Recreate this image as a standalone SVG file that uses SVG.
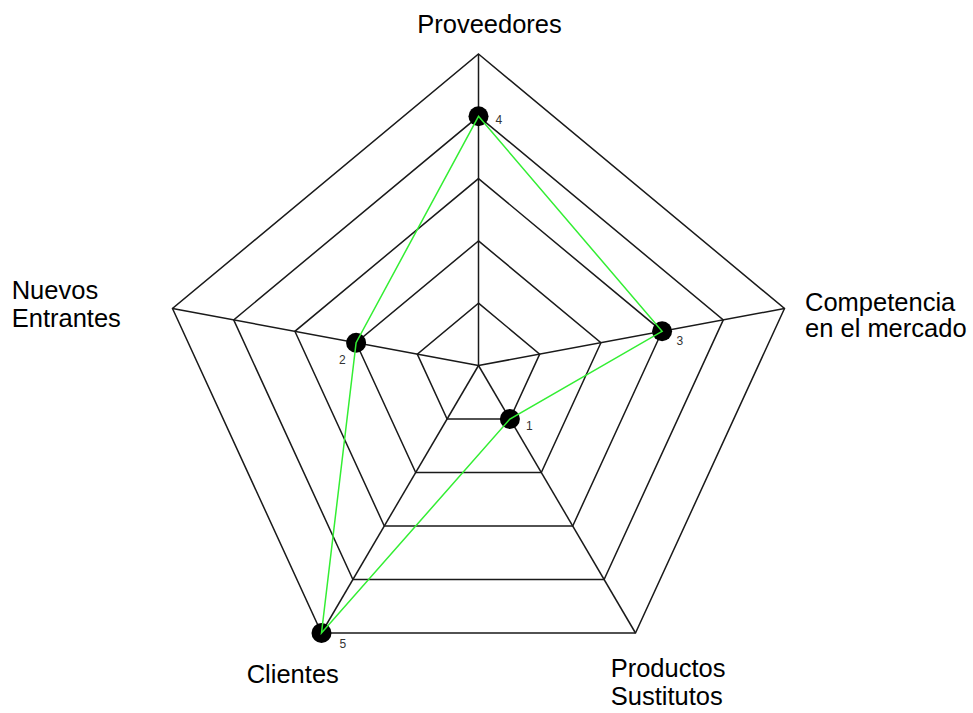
<svg xmlns="http://www.w3.org/2000/svg" width="973" height="713" viewBox="0 0 973 713">
  <style>
    .grid { fill: none; stroke: #1a1a1a; stroke-width: 1.5; stroke-linejoin: miter; }
    .axis { stroke: #1a1a1a; stroke-width: 1.5; }
    .series { fill: none; stroke: #33ee33; stroke-width: 1.5; }
    .dot { fill: #000; }
    .label { font-family: "Liberation Sans", Arial, sans-serif; font-size: 25.5px; fill: #000; }
    .val { font-family: "Liberation Sans", Arial, sans-serif; font-size: 12px; fill: #333; }
  </style>
  <rect width="973" height="713" fill="#fff"/>

  <!-- concentric level pentagons -->
  <g id="grid">
    <polygon class="grid" points="478.5,303.2 539.7,354.1 509.9,419 447.1,419 417.3,354.1"/>
    <polygon class="grid" points="478.5,240.9 600.9,342.7 541.3,472.5 415.7,472.5 356.1,342.7"/>
    <polygon class="grid" points="478.5,178.6 662.1,331.3 572.7,526 384.3,526 294.9,331.3"/>
    <polygon class="grid" points="478.5,116.3 723.3,319.9 604.1,579.5 352.9,579.5 233.7,319.9"/>
    <polygon class="grid" points="478.5,54 784.5,308.5 635.5,633 321.5,633 172.5,308.5"/>
  </g>

  <!-- spokes from the centre -->
  <g id="connectors">
    <line class="axis" x1="478.5" y1="365.5" x2="478.5" y2="54"/>
    <line class="axis" x1="478.5" y1="365.5" x2="784.5" y2="308.5"/>
    <line class="axis" x1="478.5" y1="365.5" x2="635.5" y2="633"/>
    <line class="axis" x1="478.5" y1="365.5" x2="321.5" y2="633"/>
    <line class="axis" x1="478.5" y1="365.5" x2="172.5" y2="308.5"/>
  </g>

  <!-- data points -->
  <g id="point-proveedores"><circle class="dot" cx="478.5" cy="116.3" r="10"/><text class="val" x="495.5" y="123.5">4</text></g>
  <g id="point-competencia"><circle class="dot" cx="662.1" cy="331.3" r="10"/><text class="val" x="676.5" y="344.5">3</text></g>
  <g id="point-sustitutos"><circle class="dot" cx="509.9" cy="419" r="10"/><text class="val" x="526" y="430">1</text></g>
  <g id="point-clientes"><circle class="dot" cx="321.5" cy="633" r="10"/><text class="val" x="339.5" y="648">5</text></g>
  <g id="point-entrantes"><circle class="dot" cx="356.1" cy="342.7" r="10"/><text class="val" x="339" y="363.5">2</text></g>

  <!-- series outline -->
  <g id="series">
    <polygon class="series" points="478.5,116.3 662.1,331.3 509.9,419 321.5,633 356.1,342.7"/>
  </g>

  <!-- axis labels -->
  <g id="label-proveedores"><text class="label" x="489.5" y="33.3" text-anchor="middle">Proveedores</text></g>
  <g id="label-competencia"><text class="label" x="805" y="311" font-size="27">Competencia</text><text class="label" x="805" y="337" font-size="27">en el mercado</text></g>
  <g id="label-sustitutos"><text class="label" x="610.7" y="677.3">Productos</text><text class="label" x="610.7" y="705">Sustitutos</text></g>
  <g id="label-clientes"><text class="label" x="246.7" y="683.3">Clientes</text></g>
  <g id="label-entrantes"><text class="label" x="11.7" y="299.3">Nuevos</text><text class="label" x="11.7" y="326.7">Entrantes</text></g>
</svg>
